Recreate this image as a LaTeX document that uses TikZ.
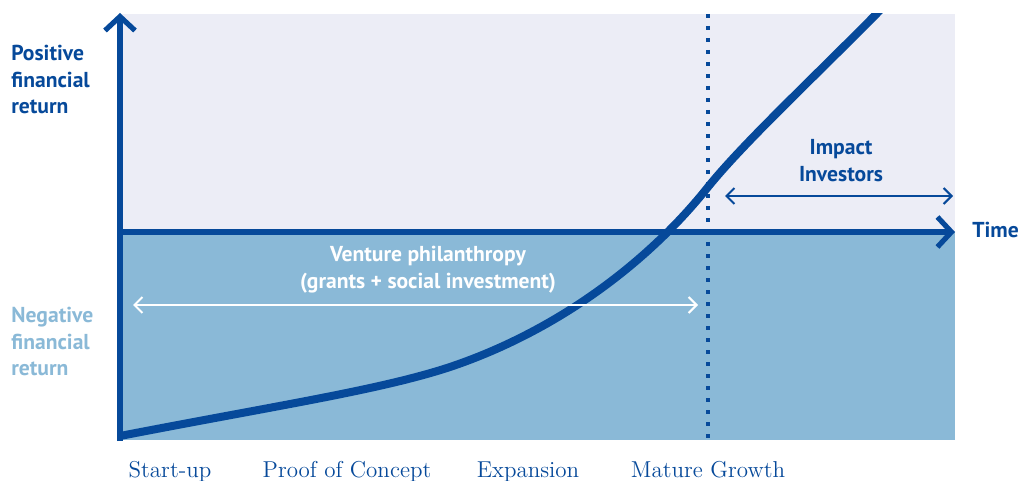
\documentclass[tikz,border=0pt]{standalone}
\usepackage{fontspec}
\setsansfont{PT Sans}
\usetikzlibrary{arrows.meta}

\definecolor{darkblue}{RGB}{6,73,154}
\definecolor{paleblue}{RGB}{138,185,215}
\definecolor{lavender}{RGB}{236,237,246}

\tikzset{
  axisline/.style={line width=2.6pt, darkblue, -{Straight Barb[length=7pt,width=15pt]}},
  rangearrow/.style={line width=1pt, {Straight Barb[length=4pt,width=8pt]}-{Straight Barb[length=4pt,width=8pt]}},
  sidetext/.style={font=\sffamily\bfseries\fontsize{10.8}{13.25}\selectfont, inner sep=0pt},
  phase/.style={font=\fontsize{11.5}{14}\selectfont, anchor=base, inner sep=0pt, darkblue},
}

\begin{document}
\begin{tikzpicture}[x=0.5pt, y=-0.5pt]
\useasboundingbox (0,0) rectangle (1018,481);

  % return areas
  \fill[lavender] (120,14) rectangle (955,232);
  \fill[paleblue] (120,232) rectangle (955,440);

  % start of mature growth
  \draw[darkblue, line width=2pt, dash pattern=on 2pt off 4pt] (708,14) -- (708,440);

  % axes
  \draw[axisline] (120,441) -- (120,13);
  \draw[axisline] (118,232) -- (955,232);

  % growth curve
  \begin{scope}
  \clip (116,14) rectangle (960,441);
  \draw[darkblue, line width=4pt] (120,436) .. controls (280,405) and (380,390) .. (450,367)
        .. controls (560,330) and (650,260) .. (708,187)
        .. controls (746,140) and (820,72) .. (895,-5);
  \end{scope}

  % axis texts
  \node[sidetext, darkblue, align=left, anchor=north west] (pos) at (11,45) {Positive\\financial\\return};
  \node[sidetext, paleblue, align=left, anchor=north west] (neg) at (11,307) {Negative\\financial\\return};
  \node[sidetext, darkblue, anchor=base west] (time) at (972,237) {Time};

  % investor ranges
  \node[sidetext, darkblue, align=center, anchor=north] (impact) at (841,139) {Impact\\Investors};
  \coordinate (iiL) at (725,196);
  \coordinate (iiR) at (953,196);
  \draw[rangearrow, darkblue] (iiL) -- (iiR);

  \node[sidetext, white, align=center, anchor=north] (venture) at (428,246) {Venture philanthropy\\(grants + social investment)};
  \coordinate (vpL) at (133,305);
  \coordinate (vpR) at (698,305);
  \draw[rangearrow, white] (vpL) -- (vpR);

  % stages
  \node[phase] (startup) at (170,477) {Start-up};
  \node[phase] (proof) at (347,477) {Proof of Concept};
  \node[phase] (expansion) at (528,477) {Expansion};
  \node[phase] (mature) at (708,477) {Mature Growth};

\end{tikzpicture}
\end{document}
